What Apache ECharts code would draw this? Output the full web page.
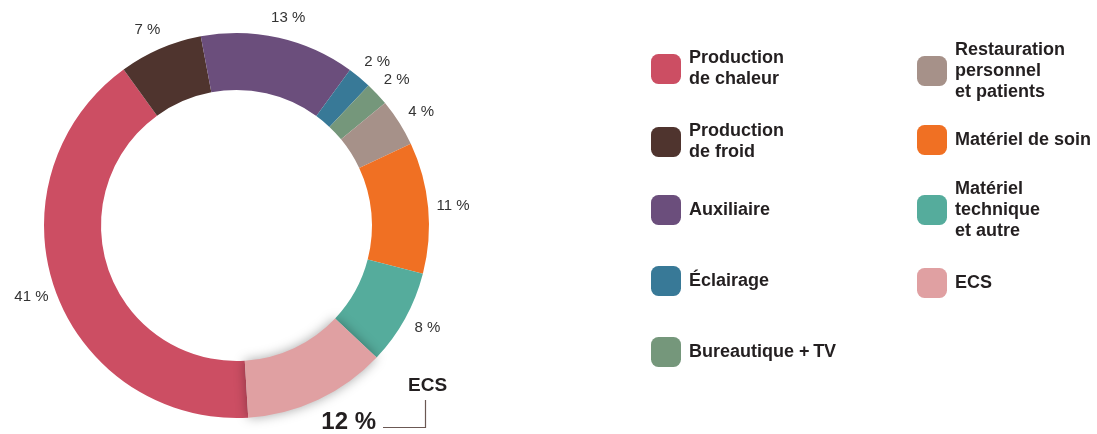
<!DOCTYPE html>
<html><head><meta charset="utf-8">
<script src="https://cdn.jsdelivr.net/npm/echarts@6/dist/echarts.min.js"></script>
<style>html,body{margin:0;padding:0;background:#fff}#c{width:1097px;height:434px}</style>
</head><body><div id="c"></div>
<script>
const categories = ['Production de chaleur','Production de froid','Auxiliaire','Éclairage','Bureautique + TV','Restauration personnel et patients','Matériel de soin','Matériel technique et autre','ECS'];
const values = [41, 7, 13, 2, 2, 4, 11, 8, 12];
const legendLabels = ['Production\nde chaleur','Production\nde froid','Auxiliaire','Éclairage','Bureautique +\u2009TV','Restauration\npersonnel\net patients','Matériel de soin','Matériel\ntechnique\net autre','ECS'];
const colors = ['#CC4E63','#4F342E','#6B4E7C','#387997','#75977B','#A69189','#F07023','#55AC9C','#E0A0A2'];

// legend layout (column x, centre y)
const legendPos = [[651,69],[651,142],[651,210],[651,281],[651,352],[917,71],[917,140],[917,210],[917,283]];
const LH = 21;
const legends = categories.map((name, i) => {
  const lines = legendLabels[i].split('\n').length;
  const h = Math.max(30, lines * LH);
  return {
    data: [name], left: legendPos[i][0], top: legendPos[i][1] - h / 2,
    padding: 0, icon: 'roundRect', itemWidth: 30, itemHeight: 30, selectedMode: false,
    formatter: () => legendLabels[i],
    textStyle: {fontFamily: 'Liberation Sans', fontWeight: 'bold', fontSize: 18, lineHeight: LH, color: '#231F20', padding: [0,0,0,3]}
  };
});

const ecsIdx = categories.indexOf('ECS');
const chart = echarts.init(document.getElementById('c'), null, {renderer: 'canvas'});
chart.setOption({
  animation: false,
  color: colors,
  legend: legends,
  series: [{
    type: 'pie',
    center: [236.5, 225.5],
    radius: [135.5, 192.5],
    startAngle: 273.5,
    clockwise: true,
    avoidLabelOverlap: false,
    label: {show: true, position: 'outside', formatter: p => p.value + ' %', fontFamily: 'Liberation Sans', fontSize: 15, color: '#333'},
    labelLine: {show: false, length: 20, length2: 0},
    labelLayout: () => ({align: 'center', verticalAlign: 'middle'}),
    emphasis: {disabled: true},
    data: categories.map((n, i) => ({
      name: n, value: values[i],
      label: i === ecsIdx ? {show: false} : undefined,
      itemStyle: i === ecsIdx ? {shadowBlur: 12, shadowColor: 'rgba(0,0,0,0.35)'} : undefined
    }))
  }],
  graphic: [
    {type: 'text', left: 408, top: 376, style: {text: categories[ecsIdx], font: 'bold 19px "Liberation Sans"', fill: '#231F20'}},
    {type: 'text', right: 1097 - 376, top: 410, style: {text: values[ecsIdx] + ' %', font: 'bold 24px "Liberation Sans"', fill: '#231F20'}},
    {type: 'polyline', shape: {points: [[383, 427.5], [425.5, 427.5], [425.5, 400]]}, style: {stroke: '#6B5853', lineWidth: 1.2, fill: null}}
  ]
});
</script></body></html>
